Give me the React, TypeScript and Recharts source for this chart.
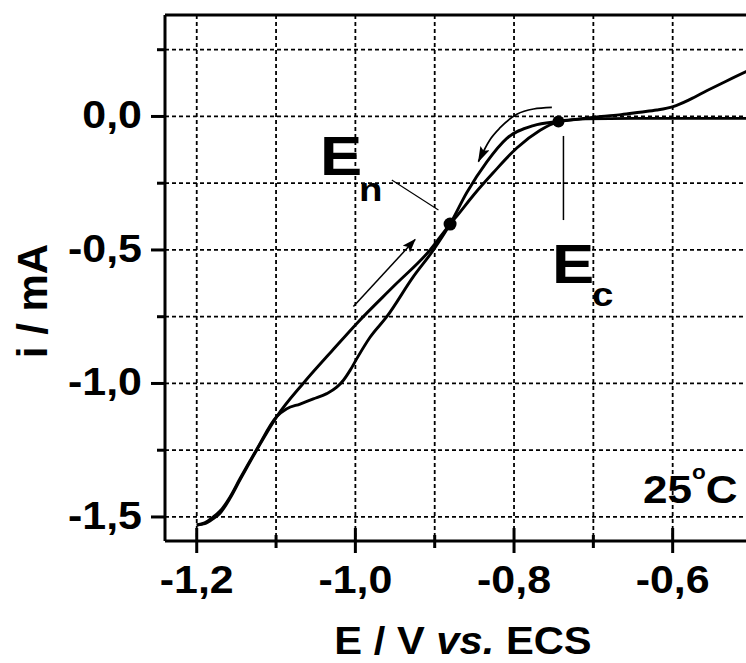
import React from 'react';
import {
  ComposedChart,
  Line,
  XAxis,
  YAxis,
  CartesianGrid,
  ReferenceDot,
  ReferenceLine,
} from 'recharts';

// ---- axis ticks ----
const xTicks = [-1.2, -1.1, -1.0, -0.9, -0.8, -0.7, -0.6, -0.5];
const xTickLabels = ['-1,2', '', '-1,0', '', '-0,8', '', '-0,6', ''];
const yTicks = [0.25, 0, -0.25, -0.5, -0.75, -1.0, -1.25, -1.5];
const yTickLabels = ['', '0,0', '', '-0,5', '', '-1,0', '', '-1,5'];

// ---- curve A: straight branch below E_n, right branch above, rising at the end ----
const curveAE = [-1.2, -1.19, -1.18, -1.1706, -1.158, -1.1454, -1.1243, -1.0991, -1.0656, -1.028, -0.9982, -0.9521, -0.9058, -0.8806, -0.8721, -0.8512, -0.826, -0.7965, -0.7671, -0.755, -0.744, -0.72, -0.69, -0.665, -0.6412, -0.62, -0.5994, -0.578, -0.5565, -0.532, -0.5073, -0.5];
const curveAI = [-1.53, -1.525, -1.508, -1.486, -1.43, -1.361, -1.249, -1.124, -0.999, -0.873, -0.775, -0.637, -0.5, -0.403, -0.373, -0.295, -0.21, -0.118, -0.052, -0.032, -0.019, -0.01, 0.0, 0.007, 0.016, 0.024, 0.037, 0.064, 0.097, 0.133, 0.168, 0.178];

// ---- curve B: lower branch below E_n, left branch above, flat at the end ----
const curveBE = [-1.2, -1.19, -1.18, -1.1706, -1.158, -1.1454, -1.1243, -1.0991, -1.0865, -1.0697, -1.053, -1.0361, -1.0235, -1.0151, -1.0067, -0.9982, -0.9815, -0.9604, -0.9269, -0.9016, -0.8806, -0.8595, -0.8343, -0.8091, -0.7755, -0.744, -0.71, -0.65, -0.5];
const curveBI = [-1.53, -1.522, -1.502, -1.478, -1.425, -1.356, -1.246, -1.124, -1.095, -1.077, -1.058, -1.038, -1.014, -0.988, -0.951, -0.907, -0.827, -0.75, -0.6, -0.5, -0.403, -0.285, -0.17, -0.082, -0.034, -0.019, -0.009, -0.007, -0.007];

// ---- scan direction arrows ----
const revArrowE = [-0.8449, -0.8301, -0.8175, -0.7965, -0.7755, -0.7523];
const revArrowI = [-0.169, -0.086, -0.042, 0.008, 0.028, 0.034];
const fwdArrowE = [-1.0025, -0.9247];
const fwdArrowI = [-0.712, -0.461];

// ---- marked points and annotation lines ----
const enPoint = { e: -0.8806, i: -0.403 };
const ecPoint = { e: -0.744, i: -0.019 };
const enPointerE = [-0.9541, -0.8953];
const enPointerI = [-0.238, -0.35];
const ecMarkE = -0.7377;
const ecMarkI = [-0.073, -0.388];

const zip = (es: number[], is: number[]) => es.map((e, k) => ({ v: e, i: is[k] }));
const curveA = zip(curveAE, curveAI);
const curveB = zip(curveBE, curveBI);
const revArrow = zip(revArrowE, revArrowI);
const fwdArrow = zip(fwdArrowE, fwdArrowI);

const FONT = '"Liberation Sans", Arial, Helvetica, sans-serif';
const SX = 1.13; // horizontal stretch of the reference lettering

const XTick = (props: any) => {
  const { x, y, payload } = props;
  const idx = xTicks.findIndex((t) => Math.abs(t - payload.value) < 1e-6);
  const label = idx >= 0 ? xTickLabels[idx] : '';
  const major = label !== '';
  return (
    <g>
      <line x1={x} x2={x} y1={major ? y - 13 : y - 6} y2={major ? y + 12 : y + 7} stroke="#000" strokeWidth={3} />
      {major && (
        <text
          transform={`translate(${x},${y + 52}) scale(${SX},1)`}
          textAnchor="middle"
          fontFamily={FONT}
          fontWeight="bold"
          fontSize={38}
          fill="#000"
        >
          {label}
        </text>
      )}
    </g>
  );
};

const YTick = (props: any) => {
  const { x, y, payload } = props;
  const idx = yTicks.findIndex((t) => Math.abs(t - payload.value) < 1e-6);
  const label = idx >= 0 ? yTickLabels[idx] : '';
  const major = label !== '';
  return (
    <g>
      <line x1={x - (major ? 14 : 8)} x2={x} y1={y} y2={y} stroke="#000" strokeWidth={3} />
      {major && (
        <text
          transform={`translate(${x - 23},${y + 12}) scale(${SX},1)`}
          textAnchor="end"
          fontFamily={FONT}
          fontWeight="bold"
          fontSize={38}
          fill="#000"
        >
          {label}
        </text>
      )}
    </g>
  );
};

const T = ({ x, y, size, anchor, sx = SX, children }: any) => (
  <text transform={`translate(${x},${y}) scale(${sx},1)`} fontSize={size} textAnchor={anchor || 'start'}>
    {children}
  </text>
);

export default function App() {
  return (
    <div style={{ position: 'absolute', left: 0, top: 0, width: 746, height: 663, overflow: 'hidden', background: '#fff' }}>
      <svg width={0} height={0} style={{ position: 'absolute' }}>
        <defs>
          <marker id="ahEnd" markerUnits="userSpaceOnUse" markerWidth={16} markerHeight={12} refX={13} refY={5} orient="auto">
            <path d="M0,0 L14,5 L0,10 L3,5 Z" fill="#000" />
          </marker>
          <marker id="ahStart" markerUnits="userSpaceOnUse" markerWidth={18} markerHeight={12} refX={15} refY={5} orient="auto-start-reverse">
            <path d="M0,0 L16,5 L0,10 L3,5 Z" fill="#000" />
          </marker>
        </defs>
      </svg>
      <ComposedChart width={752} height={663} margin={{ top: 5, right: 0, bottom: 92, left: 105 }}>
        <CartesianGrid stroke="#000" strokeDasharray="4 3" strokeWidth={1.8} />
        <XAxis
          type="number"
          dataKey="v"
          domain={[-1.24, -0.5]}
          ticks={xTicks}
          interval={0}
          allowDataOverflow
          height={30}
          tickSize={0}
          tickMargin={0}
          tickLine={false}
          tick={XTick}
          axisLine={{ stroke: '#000', strokeWidth: 3 }}
        />
        <XAxis
          xAxisId="top"
          orientation="top"
          type="number"
          domain={[-1.24, -0.5]}
          allowDataOverflow
          height={10}
          tick={false}
          tickLine={false}
          axisLine={{ stroke: '#000', strokeWidth: 3 }}
        />
        <YAxis
          type="number"
          domain={[-1.59, 0.38]}
          ticks={yTicks}
          interval={0}
          allowDataOverflow
          width={60}
          tickSize={0}
          tickMargin={0}
          tickLine={false}
          tick={YTick}
          axisLine={{ stroke: '#000', strokeWidth: 3 }}
        />
        <Line data={curveB} dataKey="i" type="monotone" stroke="#000" strokeWidth={2.9} dot={false} isAnimationActive={false} />
        <Line data={curveA} dataKey="i" type="monotone" stroke="#000" strokeWidth={2.9} dot={false} isAnimationActive={false} />
        <Line
          data={revArrow}
          dataKey="i"
          type="monotone"
          stroke="#000"
          strokeWidth={1.7}
          dot={false}
          isAnimationActive={false}
          markerStart="url(#ahStart)"
        />
        <Line
          data={fwdArrow}
          dataKey="i"
          type="linear"
          stroke="#000"
          strokeWidth={1.5}
          dot={false}
          isAnimationActive={false}
          markerEnd="url(#ahEnd)"
        />
        <ReferenceLine
          segment={[
            { x: enPointerE[0], y: enPointerI[0] },
            { x: enPointerE[1], y: enPointerI[1] },
          ]}
          stroke="#000"
          strokeWidth={1.1}
        />
        <ReferenceLine
          segment={[
            { x: ecMarkE, y: ecMarkI[0] },
            { x: ecMarkE, y: ecMarkI[1] },
          ]}
          stroke="#000"
          strokeWidth={1.5}
        />
        <ReferenceDot x={enPoint.e} y={enPoint.i} r={6.5} fill="#000" stroke="none" />
        <ReferenceDot x={ecPoint.e} y={ecPoint.i} r={6} fill="#000" stroke="none" />
      </ComposedChart>
      <svg
        width={746}
        height={663}
        style={{ position: 'absolute', left: 0, top: 0, pointerEvents: 'none' }}
        fontFamily={FONT}
        fontWeight="bold"
        fill="#000"
      >
        <T x={320} y={175} size={56}>E</T>
        <T x={359} y={201} size={34}>n</T>
        <T x={552} y={283} size={56}>E</T>
        <T x={592} y={306} size={34}>c</T>
        <text transform={`translate(643,503) scale(${SX},1)`} fontSize={39}>
          25<tspan dy={-24} fontSize={20}>o</tspan>
          <tspan dy={24} fontSize={39}>C</tspan>
        </text>
        <text transform="translate(463,654) scale(1.07,1)" textAnchor="middle" fontSize={39}>
          E / V <tspan fontStyle="italic">vs.</tspan> ECS
        </text>
        <text transform="translate(47,301) rotate(-90)" textAnchor="middle" fontSize={42}>
          i / mA
        </text>
      </svg>
    </div>
  );
}
